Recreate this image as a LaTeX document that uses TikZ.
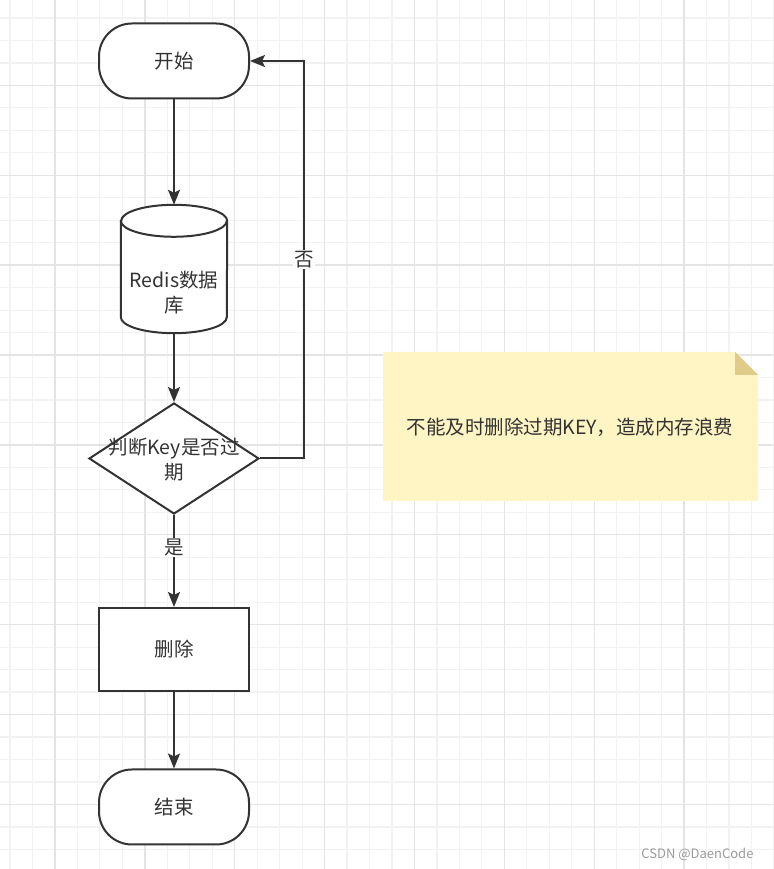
\documentclass[tikz,border=0pt]{standalone}
\usepackage{fontspec}
\setmainfont{Noto Sans CJK SC}
\usepackage{tikz}
\usetikzlibrary{arrows.meta,positioning,calc,shapes.geometric}
\definecolor{lineDark}{HTML}{333333}
\definecolor{gridMinor}{HTML}{F2F2F2}
\definecolor{gridMajor}{HTML}{E4E4E4}
\definecolor{noteFill}{HTML}{FFF4C3}
\definecolor{noteFold}{HTML}{E0CC88}
\definecolor{markGray}{HTML}{9A9A9A}

\begin{document}
\begin{tikzpicture}[x=1pt, y=1pt,
  font=\fontsize{19.5}{25}\selectfont,
  gridline/.style={draw=gridMinor, line width=1.2pt},
  gridbold/.style={draw=gridMajor, line width=1.4pt},
  flow/.style={draw=lineDark, line width=2pt, fill=white, text=lineDark, inner sep=0pt},
  term/.style={flow, rounded corners=33pt, minimum width=150pt, minimum height=75pt},
  proc/.style={flow, minimum width=150pt, minimum height=83pt},
  link/.style={draw=lineDark, line width=2pt, -{Stealth[length=15pt,width=12pt,inset=3pt]}},
  tag/.style={fill=white, text=lineDark, inner sep=1pt}]
\useasboundingbox (0,0) rectangle (773,869);
\fill[white] (0,0) rectangle (773,869);
\foreach \k in {0,...,34} {\draw[gridline] ({10+22.47*\k},0) -- ({10+22.47*\k},869);}
\foreach \k in {0,...,38} {\draw[gridline] (0,{851-22.47*\k}) -- (773,{851-22.47*\k});}
\foreach \k in {0,...,7} {\draw[gridbold] ({54.94+89.88*\k},0) -- ({54.94+89.88*\k},869);}
\foreach \k in {0,...,8} {\draw[gridbold] (0,{783.6-89.88*\k}) -- (773,{783.6-89.88*\k});}

\node[term] (start) at (174,808) {开始};
\node[minimum width=106pt, minimum height=128pt, inner sep=0pt] (db) at (174,600) {};
\draw[flow] ($(db.north west)+(0,-16)$) -- ($(db.south west)+(0,16)$)
  arc[start angle=180, end angle=360, x radius=53, y radius=16]
  -- ($(db.north east)+(0,-16)$)
  arc[start angle=0, end angle=180, x radius=53, y radius=16] -- cycle;
\draw[flow, fill=none] ($(db.north west)+(0,-16)$)
  arc[start angle=180, end angle=360, x radius=53, y radius=16];
\node[align=center, text=lineDark] (dbtext) at (174,576) {Redis数据\\库};
\node[flow, diamond, minimum width=170pt, minimum height=111pt] (chk) at (174,410.5) {};
\node[align=center, text=lineDark] (chktext) at (174,409) {判断Key是否过\\期};
\node[proc] (del) at (174,219.5) {删除};
\node[term] (stop) at (174,62) {结束};

\draw[link] (start) -- (db.north);
\draw[link] (db.south) -- (chk.north);
\draw[link] (chk.south) -- node[tag, pos=0.35] {是} (del.north);
\draw[link] (del) -- (stop);
\coordinate (back) at (304,410.5);
\draw[link] (chk.east) -- (back) |- node[tag, pos=0.25] {否} (start.east);

\fill[noteFill] (383,368) -- (383,517) -- (735,517) -- (758,494) -- (758,368) -- cycle;
\fill[noteFold] (735,517) -- (735,494) -- (758,494) -- cycle;
\node[text=lineDark] (note) at (570,442) {不能及时删除过期KEY，造成内存浪费};
\node[anchor=east, text=markGray, font=\fontsize{13}{15}\selectfont] (mark) at (757,15) {CSDN @DaenCode};
\end{tikzpicture}
\end{document}
